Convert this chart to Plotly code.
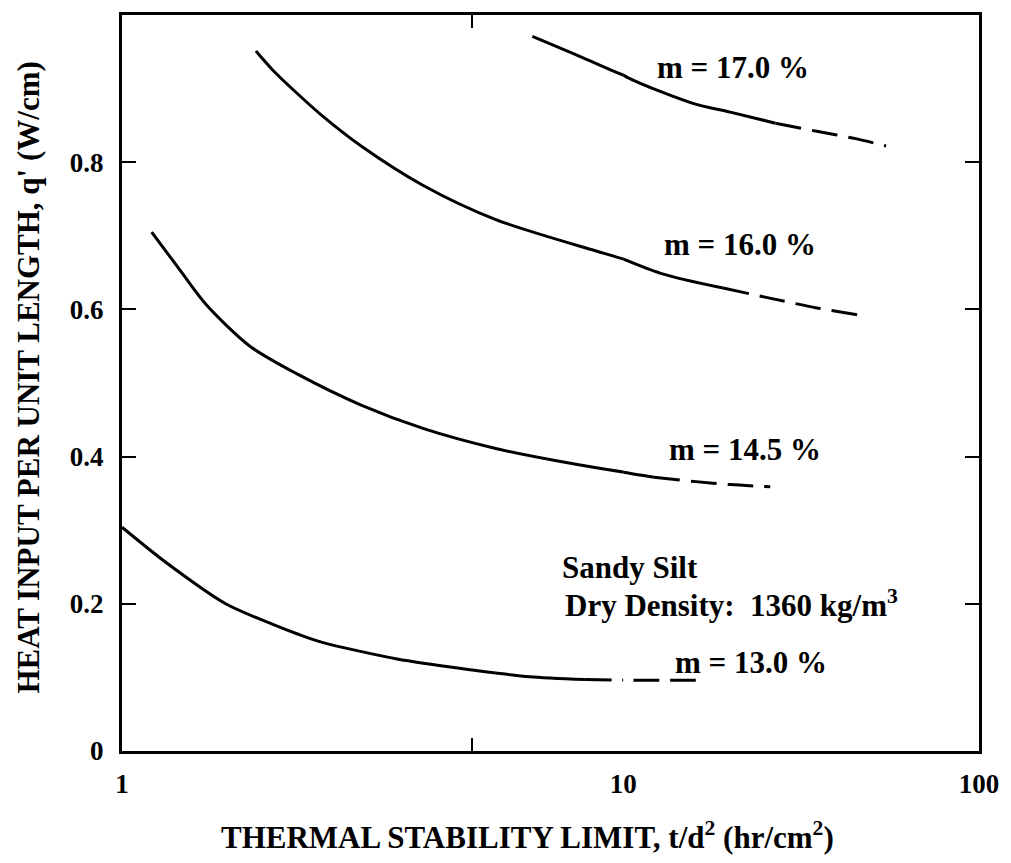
import plotly.graph_objects as go

# ---------------- data ----------------
m13_solid_x = [1.0, 1.23, 1.61, 2.0, 2.24, 2.5, 3.54, 5.0, 5.57, 6.5, 8.4]
m13_solid_y = [0.304, 0.255, 0.200, 0.172, 0.159, 0.148, 0.125, 0.110, 0.106, 0.101, 0.097]
m13_dash_x = [8.4, 11.0, 13.5, 16.0]
m13_dash_y = [0.097, 0.096, 0.096, 0.096]

m145_solid_x = [1.146, 1.3, 1.47, 1.8, 2.24, 3.0, 4.0, 5.57, 7.55, 10.26, 12.2]
m145_solid_y = [0.705, 0.655, 0.607, 0.550, 0.512, 0.470, 0.438, 0.411, 0.393, 0.378, 0.372]
m145_dash_x = [12.2, 16.0, 20.0, 25.9]
m145_dash_y = [0.372, 0.366, 0.362, 0.359]

m16_solid_x = [1.85, 2.0, 2.24, 2.5, 3.0, 4.0, 5.57, 8.77, 12.75, 19.1]
m16_solid_y = [0.951, 0.925, 0.893, 0.864, 0.822, 0.768, 0.722, 0.680, 0.649, 0.629]
m16_dash_x = [19.1, 26.0, 35.0, 47.6]
m16_dash_y = [0.629, 0.615, 0.602, 0.591]

m17_solid_x = [6.59, 8.0, 10.3, 15.7, 20.0, 26.8]
m17_solid_y = [0.971, 0.947, 0.915, 0.880, 0.868, 0.853]
m17_dash_x = [26.8, 35.0, 45.0, 54.8]
m17_dash_y = [0.853, 0.842, 0.832, 0.822]

curve_labels = ["m = 17.0 %", "m = 16.0 %", "m = 14.5 %", "m = 13.0 %"]
y_tick_vals = [0, 0.2, 0.4, 0.6, 0.8]
y_tick_text = ["0", "0.2", "0.4", "0.6", "0.8"]
x1_tick_vals = [1, 5, 10]
x1_tick_text = ["1", "", "10"]
x2_tick_vals = [100]
x2_tick_text = ["100"]

FONT = "Liberation Serif"
BLACK = "#000000"
DASH = "26px,11px"

fig = go.Figure()

series = [
    (m13_solid_x, m13_solid_y, "solid"), (m13_dash_x, m13_dash_y, DASH),
    (m145_solid_x, m145_solid_y, "solid"), (m145_dash_x, m145_dash_y, DASH),
    (m16_solid_x, m16_solid_y, "solid"), (m16_dash_x, m16_dash_y, DASH),
    (m17_solid_x, m17_solid_y, "solid"), (m17_dash_x, m17_dash_y, DASH),
]
# the original scale has a wider 1-10 decade than 10-100 decade: two log axes
for xa, ya in (("x", "y"), ("x2", "y2")):
    for xs, ys, dash in series:
        fig.add_trace(go.Scatter(
            x=xs, y=ys, mode="lines", xaxis=xa, yaxis=ya,
            line=dict(color=BLACK, width=3, dash=dash, shape="spline", smoothing=0.8),
            showlegend=False, hoverinfo="skip"))

SPLIT = 507 / 867
tickfont = dict(family=FONT, size=27, color=BLACK, weight="bold")
common_x = dict(type="log", showgrid=False, zeroline=False, showline=True,
                linecolor=BLACK, linewidth=3, ticks="inside", ticklen=13,
                tickwidth=2, tickcolor=BLACK, mirror="ticks", tickfont=tickfont,
                ticklabelstandoff=7)
common_y = dict(range=[0, 1.0], showgrid=False, zeroline=False, showline=True,
                linecolor=BLACK, linewidth=3, ticks="inside", ticklen=14,
                tickwidth=2, tickcolor=BLACK, tickvals=y_tick_vals,
                domain=[0, 1], fixedrange=True)

fig.update_layout(
    width=1011, height=863,
    margin=dict(l=122, r=22, t=12, b=112),
    paper_bgcolor="white", plot_bgcolor="white",
    xaxis=dict(common_x, domain=[0, SPLIT], range=[0, 1], anchor="y",
               tickvals=x1_tick_vals, ticktext=x1_tick_text),
    xaxis2=dict(common_x, domain=[SPLIT, 1], range=[1, 2], anchor="y2",
                tickvals=x2_tick_vals, ticktext=x2_tick_text),
    yaxis=dict(common_y, anchor="x", side="left", ticktext=y_tick_text,
               tickfont=tickfont, ticklabelstandoff=10),
    yaxis2=dict(common_y, anchor="x2", side="right", showticklabels=False),
)

ann_font = dict(family=FONT, size=31, color=BLACK, weight="bold")


def px_to_paper(px, py):
    return (px - 122) / 867, (751 - py) / 739


label_pos = [(740, 65), (747, 242), (752, 448), (758, 662)]
for text, (px, py) in zip(curve_labels, label_pos):
    ax, ay = px_to_paper(px, py)
    fig.add_annotation(x=ax, y=ay, xref="paper", yref="paper", text=text,
                       showarrow=False, font=ann_font, xanchor="center", yanchor="middle")

sx, sy = px_to_paper(565, 567)
fig.add_annotation(x=sx, y=sy, xref="paper", yref="paper", text="Sandy Silt",
                   showarrow=False, font=ann_font, xanchor="left", yanchor="middle")
dx, dy = px_to_paper(568, 603)
fig.add_annotation(x=dx, y=dy, xref="paper", yref="paper",
                   text="Dry Density:  1360 kg/m<sup>3</sup>",
                   showarrow=False, font=ann_font, xanchor="left", yanchor="middle")

title_font = dict(family=FONT, size=31, color=BLACK, weight="bold")
tx, ty = px_to_paper(532, 836)
fig.add_annotation(x=tx, y=ty, xref="paper", yref="paper",
                   text="THERMAL STABILITY LIMIT, t/d<sup>2</sup> (hr/cm<sup>2</sup>)",
                   showarrow=False, font=title_font, xanchor="center", yanchor="middle")
ytitle_font = dict(family=FONT, size=31, color=BLACK, weight="bold")
yx, yy = px_to_paper(27, 376)
fig.add_annotation(x=yx, y=yy, xref="paper", yref="paper",
                   text="HEAT INPUT PER UNIT LENGTH, q' (W/cm)", textangle=-90,
                   showarrow=False, font=ytitle_font, xanchor="center", yanchor="middle")

fig.write_html("out.html")
